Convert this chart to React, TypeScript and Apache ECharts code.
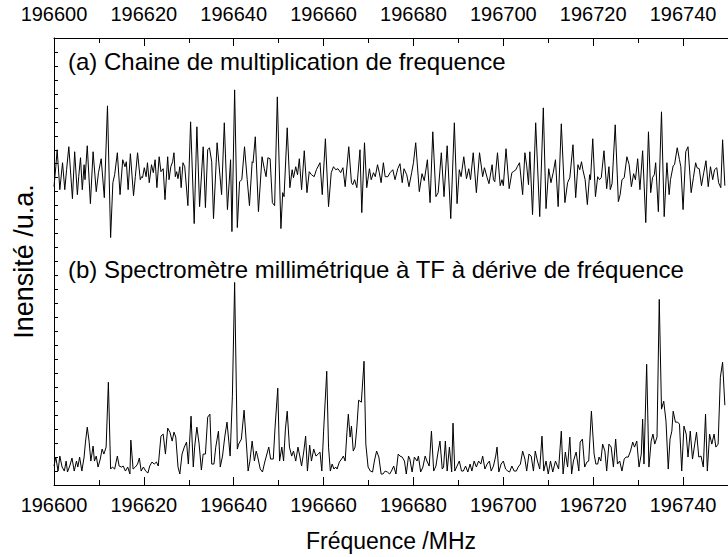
import React, { useEffect, useRef } from "react";
import * as echarts from "echarts";

const FREQ_BASE = 196600;

// Trace (a): frequency offset (MHz, from 196600) and intensity (u.a.)
const freqOffsetA = [
  0.0, 0.4, 0.7, 1.3, 1.9, 2.4, 2.8, 3.3, 4.1, 4.6, 5.2, 5.5, 5.9, 6.3, 6.7, 6.9, 7.4, 8.1, 8.7, 9.4,
  9.9, 10.5, 11.2, 11.9, 12.6, 13.1, 13.5, 14.1, 14.7, 15.3, 15.8, 16.1, 16.5, 17.0, 17.7, 18.1, 18.6, 19.2, 19.5, 19.7,
  20.1, 20.5, 20.8, 21.2, 21.7, 22.1, 22.5, 22.9, 23.4, 23.8, 24.3, 24.7, 25.3, 25.6, 26.0, 26.4, 26.7, 27.0, 27.3, 27.6,
  28.0, 28.3, 28.7, 29.1, 29.8, 30.4, 31.2, 31.8, 32.4, 33.2, 33.7, 34.2, 34.6, 35.1, 35.5, 36.3, 37.3, 37.9, 38.6, 39.3,
  39.6, 40.2, 40.8, 41.3, 41.8, 42.4, 43.0, 43.5, 44.1, 44.3, 44.8, 45.5, 46.3, 46.8, 47.2, 47.6, 48.1, 48.6, 49.1, 49.7,
  50.5, 50.9, 51.2, 51.9, 52.5, 53.0, 53.3, 53.8, 54.2, 54.6, 55.1, 55.7, 56.3, 56.8, 57.3, 57.9, 58.4, 59.2, 59.7, 60.4,
  61.1, 61.7, 62.2, 62.7, 63.2, 63.8, 64.3, 64.8, 65.6, 66.2, 66.5, 66.9, 67.4, 68.1, 68.5, 69.1, 69.6, 70.2, 70.6, 71.1,
  71.5, 72.0, 72.4, 72.8, 73.3, 73.7, 74.3, 74.8, 75.4, 75.9, 76.5, 77.0, 77.5, 77.9, 78.5, 79.0, 79.6, 80.0, 80.5, 81.3,
  81.9, 82.4, 83.1, 83.7, 84.3, 85.0, 85.5, 86.2, 86.8, 87.5, 88.3, 89.1, 89.7, 90.2, 90.6, 91.2, 91.8, 92.3, 92.7, 93.3,
  94.0, 94.7, 95.4, 95.8, 96.4, 96.8, 97.5, 97.8, 98.1, 98.7, 99.3, 99.7, 100.0, 100.6, 101.3, 101.9, 102.2, 102.8, 103.1, 103.6,
  104.3, 104.8, 105.2, 105.6, 105.9, 106.5, 107.2, 108.1, 108.9, 109.5, 110.1, 110.6, 111.1, 111.6, 112.2, 112.9, 113.7, 114.3, 114.8, 115.5,
  116.1, 116.6, 117.0, 117.4, 117.7, 118.2, 118.7, 119.2, 119.4, 119.9, 120.5, 121.0, 121.4, 121.8, 122.4, 123.0, 123.5, 123.8, 124.2, 124.9,
  125.6, 126.0, 126.4, 126.9, 127.5, 128.0, 128.5, 129.0, 129.4, 129.9, 130.4, 131.0, 131.7, 132.3, 132.8, 133.2, 133.6, 133.9, 134.5, 135.2,
  135.8, 136.4, 136.9, 137.2, 137.8, 138.1, 138.7, 139.2, 139.5, 140.0, 140.6, 141.1, 141.8, 142.3, 142.8, 143.1, 143.6, 144.1, 144.6, 145.1,
  145.6, 146.1, 146.6, 147.0, 147.5, 147.9, 148.4, 148.8, 149.3,
];
const intensityA = [
  299, 319, 336, 296, 323, 296, 316, 339, 287, 334, 291, 309, 328, 296, 321, 306, 340, 282, 334, 294,
  313, 327, 288, 380, 248, 303, 311, 333, 291, 326, 319, 324, 296, 332, 290, 309, 333, 306, 309, 308,
  318, 309, 323, 303, 321, 313, 326, 298, 329, 314, 317, 286, 329, 306, 319, 324, 333, 309, 314, 307,
  319, 298, 323, 319, 280, 364, 262, 359, 279, 339, 278, 336, 338, 324, 267, 343, 291, 363, 276, 326,
  254, 396, 258, 304, 306, 339, 306, 280, 324, 323, 349, 274, 329, 317, 309, 328, 327, 283, 280, 389,
  257, 293, 289, 358, 298, 316, 308, 319, 311, 327, 296, 335, 293, 314, 311, 309, 316, 323, 291, 347,
  279, 313, 319, 316, 317, 313, 318, 299, 339, 303, 301, 306, 298, 336, 273, 343, 298, 317, 306, 313,
  309, 321, 313, 303, 323, 309, 309, 313, 316, 306, 317, 322, 303, 317, 311, 299, 313, 323, 343, 294,
  312, 305, 326, 283, 354, 289, 293, 333, 289, 340, 267, 363, 282, 316, 309, 329, 307, 317, 306, 333,
  293, 333, 309, 318, 308, 302, 321, 306, 304, 333, 300, 306, 300, 337, 297, 313, 314, 316, 319, 323,
  291, 333, 320, 301, 334, 271, 363, 269, 378, 277, 317, 303, 313, 326, 279, 362, 283, 303, 308, 341,
  288, 321, 316, 324, 316, 306, 281, 311, 306, 347, 289, 309, 306, 308, 335, 297, 319, 296, 302, 361,
  284, 291, 306, 308, 329, 321, 299, 312, 306, 327, 296, 335, 263, 354, 293, 308, 311, 323, 274, 374,
  269, 323, 291, 306, 320, 321, 338, 326, 319, 276, 334, 339, 293, 308, 323, 318, 317, 300, 313, 325,
  299, 319, 306, 316, 318, 303, 298, 346, 300,
];

// Trace (b)
const freqOffsetB = [
  0.0, 0.4, 0.9, 1.3, 1.8, 2.3, 2.7, 3.0, 3.5, 4.0, 4.5, 5.0, 5.3, 5.7, 6.2, 6.7, 7.0, 7.4, 7.8, 8.2,
  8.7, 9.0, 9.4, 9.8, 10.3, 10.7, 11.1, 11.6, 12.1, 12.6, 13.0, 13.5, 14.1, 14.5, 15.0, 15.4, 15.9, 16.4, 16.9, 17.1,
  17.6, 18.1, 18.6, 19.0, 19.4, 19.9, 20.4, 20.9, 21.3, 21.8, 22.3, 22.8, 23.2, 23.8, 24.3, 24.8, 25.3, 25.8, 26.3, 26.7,
  27.1, 27.6, 28.0, 28.5, 29.0, 29.5, 29.9, 30.5, 31.0, 31.3, 31.8, 32.3, 32.8, 33.2, 33.7, 34.2, 34.7, 35.1, 35.6, 36.0,
  36.6, 37.0, 37.5, 38.0, 38.5, 38.9, 39.2, 39.7, 40.2, 40.8, 41.1, 41.7, 42.3, 42.9, 43.2, 43.6, 44.1, 44.6, 45.0, 45.3,
  45.9, 46.4, 46.9, 47.2, 47.8, 48.2, 48.8, 49.2, 49.8, 50.2, 50.7, 51.1, 51.5, 51.9, 52.4, 52.9, 53.3, 53.8, 54.3, 54.7,
  55.1, 55.6, 56.0, 56.4, 56.9, 57.3, 57.8, 58.3, 58.8, 59.2, 59.6, 60.0, 60.7, 61.1, 61.5, 61.9, 62.3, 62.7, 63.0, 63.5,
  64.0, 64.4, 64.8, 65.2, 65.5, 65.9, 66.2, 66.6, 67.0, 67.4, 67.8, 68.4, 69.0, 69.4, 69.9, 70.4, 70.9, 71.3, 71.8, 72.3,
  72.8, 73.2, 73.7, 74.2, 74.7, 75.1, 75.6, 76.1, 76.6, 77.0, 77.5, 78.0, 78.4, 78.9, 79.2, 79.7, 80.2, 80.8, 81.1, 81.6,
  82.1, 82.6, 83.0, 83.5, 84.0, 84.5, 85.0, 85.4, 85.9, 86.4, 86.7, 87.1, 87.5, 88.0, 88.5, 88.8, 89.2, 89.7, 90.2, 90.7,
  91.1, 91.6, 92.1, 92.6, 93.0, 93.5, 94.0, 94.5, 95.0, 95.4, 95.9, 96.4, 96.9, 97.3, 97.8, 98.3, 98.6, 99.0, 99.5, 100.0,
  100.5, 101.0, 101.4, 101.9, 102.4, 102.9, 103.3, 103.8, 104.3, 104.8, 105.2, 105.7, 106.2, 106.7, 107.1, 107.6, 108.1, 108.6, 109.0, 109.5,
  110.0, 110.5, 111.0, 111.6, 112.3, 112.9, 113.3, 113.8, 114.3, 114.8, 115.2, 115.6, 116.2, 116.8, 117.1, 117.6, 118.1, 118.6, 119.0, 119.6,
  120.2, 120.6, 121.0, 121.3, 121.7, 122.1, 122.6, 123.0, 123.5, 124.0, 124.5, 125.0, 125.4, 125.9, 126.4, 126.9, 127.3, 127.8, 128.3, 128.8,
  129.2, 129.7, 130.2, 130.7, 131.0, 131.3, 131.9, 132.4, 132.9, 133.3, 133.7, 134.2, 134.7, 135.2, 135.7, 136.2, 136.7, 137.1, 137.5, 137.8,
  138.3, 138.8, 139.2, 139.7, 140.2, 140.7, 141.1, 141.6, 142.1, 142.6, 143.0, 143.5, 144.0, 144.5, 145.0, 145.4, 145.9, 146.4, 146.9, 147.3,
  147.8, 148.3, 148.8, 149.3,
];
const intensityB = [
  19, 28, 14, 29, 18, 14, 24, 13, 19, 27, 14, 24, 18, 28, 14, 28, 43, 58, 44, 24,
  39, 24, 29, 18, 26, 36, 31, 38, 103, 16, 18, 16, 29, 19, 18, 19, 14, 18, 11, 45,
  16, 18, 21, 27, 14, 18, 14, 12, 19, 23, 21, 23, 19, 49, 51, 31, 57, 53, 44, 53,
  48, 18, 11, 31, 38, 43, 21, 69, 18, 38, 58, 41, 15, 31, 31, 68, 71, 21, 21, 38,
  54, 18, 29, 48, 63, 44, 29, 89, 203, 36, 41, 46, 75, 36, 14, 24, 44, 24, 34, 29,
  16, 13, 23, 28, 38, 26, 26, 58, 97, 24, 38, 24, 56, 74, 38, 29, 34, 24, 38, 29,
  19, 34, 49, 14, 40, 24, 36, 29, 31, 33, 14, 54, 114, 38, 14, 21, 16, 18, 16, 23,
  26, 29, 24, 53, 71, 48, 59, 34, 38, 58, 85, 83, 124, 41, 18, 14, 13, 24, 34, 28,
  11, 11, 14, 13, 11, 14, 19, 11, 31, 29, 28, 24, 11, 29, 26, 13, 28, 24, 29, 13,
  18, 29, 24, 19, 54, 14, 19, 31, 44, 16, 18, 44, 14, 38, 13, 62, 14, 19, 24, 14,
  14, 19, 13, 21, 14, 24, 18, 24, 21, 29, 16, 21, 24, 14, 19, 29, 38, 13, 21, 24,
  16, 14, 13, 19, 14, 14, 18, 21, 34, 26, 14, 31, 29, 14, 34, 24, 16, 49, 14, 24,
  11, 24, 13, 24, 16, 54, 11, 33, 18, 48, 11, 24, 33, 14, 43, 46, 18, 23, 24, 74,
  31, 21, 21, 28, 24, 41, 34, 14, 41, 38, 18, 46, 21, 24, 14, 26, 28, 28, 34, 43,
  38, 44, 18, 31, 66, 21, 121, 18, 44, 51, 41, 48, 186, 76, 84, 64, 16, 46, 54, 74,
  63, 63, 61, 14, 59, 51, 28, 54, 26, 41, 53, 28, 29, 18, 71, 14, 51, 41, 51, 38,
  41, 108, 123, 80,
];

// Axis extents and tick labels (MHz); the plot is cut at the right edge
const X_MIN = 196600;
const X_MAX = 196750;
const X_MAJOR = 20;
const X_MINOR = 10;
const xTickLabels = ["196600", "196620", "196640", "196660", "196680", "196700", "196720", "196740"];
const Y_MIN = 0;
const Y_MAX = 448;
const Y_TICK = 14;

const titleA = "(a) Chaine de multiplication de frequence";
const titleB = "(b) Spectromètre millimétrique à TF à dérive de fréquence";
const xName = "Fréquence /MHz";
const yName = "Inensité /u.a.";

const FONT = "'Liberation Sans', Arial, Helvetica, sans-serif";

export default function App() {
  const ref = useRef<HTMLDivElement>(null);

  useEffect(() => {
    document.body.style.overflow = "hidden";
    const chart = echarts.init(ref.current!, undefined, { renderer: "svg" });
    const seriesA = freqOffsetA.map((o, i) => [FREQ_BASE + o, intensityA[i]]);
    const seriesB = freqOffsetB.map((o, i) => [FREQ_BASE + o, intensityB[i]]);

    const majorAxis = (pos: "top" | "bottom") => ({
      type: "value" as const,
      position: pos,
      min: X_MIN,
      max: X_MAX,
      interval: X_MAJOR,
      axisLine: { show: true, onZero: false, lineStyle: { color: "#000", width: 1 } },
      axisTick: { show: true, inside: true, length: 8, lineStyle: { color: "#000", width: 1 } },
      splitLine: { show: false },
      axisLabel: {
        show: true,
        color: "#000",
        fontSize: 20,
        fontFamily: FONT,
        margin: pos === "top" ? 14 : 10,
        showMaxLabel: false,
        formatter: (v: number) => (xTickLabels.includes(String(v)) ? String(v) : ""),
      },
    });
    const minorAxis = (pos: "top" | "bottom") => ({
      type: "value" as const,
      position: pos,
      min: X_MIN,
      max: X_MAX,
      interval: X_MINOR,
      axisLine: { show: false, onZero: false },
      axisTick: { show: true, inside: true, length: 5, lineStyle: { color: "#000", width: 1 } },
      splitLine: { show: false },
      axisLabel: { show: false },
    });

    chart.setOption({
      animation: false,
      backgroundColor: "#fff",
      grid: { left: 54, top: 38, width: 679, height: 448 },
      xAxis: [
        {
          ...majorAxis("bottom"),
          name: xName,
          nameLocation: "middle",
          nameGap: 44,
          nameTextStyle: { color: "#000", fontSize: 23, fontFamily: FONT },
        },
        majorAxis("top"),
        minorAxis("bottom"),
        minorAxis("top"),
      ],
      yAxis: {
        type: "value",
        min: Y_MIN,
        max: Y_MAX,
        interval: Y_TICK,
        axisLine: { show: true, onZero: false, lineStyle: { color: "#000", width: 1 } },
        axisTick: { show: true, inside: true, length: 4, lineStyle: { color: "#000", width: 1 } },
        axisLabel: { show: false },
        splitLine: { show: false },
        name: yName,
        nameLocation: "middle",
        nameRotate: 90,
        nameGap: 17,
        nameTextStyle: { color: "#000", fontSize: 27, fontFamily: FONT },
      },
      graphic: [
        {
          type: "text",
          left: 68,
          top: 49,
          style: { text: titleA, fill: "#000", fontSize: 24, fontFamily: FONT },
        },
        {
          type: "text",
          left: 68,
          top: 257,
          style: { text: titleB, fill: "#000", fontSize: 24, fontFamily: FONT },
        },
      ],
      series: [
        {
          type: "line",
          data: seriesA,
          showSymbol: false,
          symbol: "none",
          lineStyle: { color: "#000", width: 1 },
          xAxisIndex: 0,
        },
        {
          type: "line",
          data: seriesB,
          showSymbol: false,
          symbol: "none",
          lineStyle: { color: "#000", width: 1 },
          xAxisIndex: 0,
        },
      ],
    });
    return () => chart.dispose();
  }, []);

  return (
    <div
      ref={ref}
      style={{ position: "fixed", left: 0, top: 0, width: 728, height: 557, background: "#fff" }}
    />
  );
}
